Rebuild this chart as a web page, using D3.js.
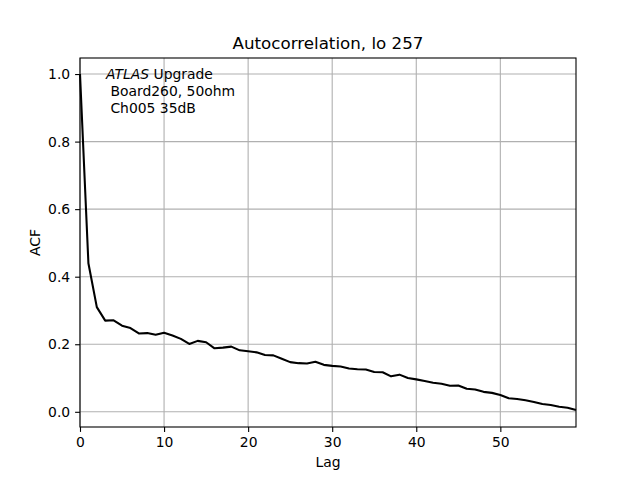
<!DOCTYPE html>
<html>
<head>
<meta charset="utf-8">
<script src="https://cdn.jsdelivr.net/npm/d3@7"></script>
<style>
  body { margin: 0; background: #fff; }
  svg text { font-family: "DejaVu Sans", sans-serif; fill: #000; }
</style>
</head>
<body>
<svg id="chart" width="640" height="480"></svg>
<script>
// valores de la autocorrelacion
const lags = d3.range(0, 60);
const acf = [
  1.0, 0.44, 0.31, 0.27, 0.271, 0.255, 0.248, 0.232, 0.233, 0.228,
  0.234, 0.226, 0.216, 0.201, 0.21, 0.206, 0.188, 0.19, 0.193, 0.182,
  0.179, 0.176, 0.168, 0.167, 0.157, 0.147, 0.144, 0.143, 0.148, 0.139,
  0.136, 0.134, 0.128, 0.126, 0.125, 0.118, 0.117, 0.105, 0.11, 0.1,
  0.096, 0.091, 0.086, 0.083, 0.077, 0.078, 0.068, 0.066, 0.059, 0.056,
  0.05, 0.04, 0.038, 0.034, 0.029, 0.023, 0.02, 0.015, 0.012, 0.005
];
const xTicks = [0, 10, 20, 30, 40, 50];
const yTicks = [0.0, 0.2, 0.4, 0.6, 0.8, 1.0];
const titleText = "Autocorrelation, lo 257";
const noteLines = [" Board260, 50ohm", " Ch005 35dB"];

const margin = { top: 58, right: 64, bottom: 53, left: 80 };
const width = 640 - margin.left - margin.right;
const height = 480 - margin.top - margin.bottom;

const svg = d3.select("#chart");
const g = svg.append("g")
  .attr("transform", `translate(${margin.left},${margin.top})`);

const x = d3.scaleLinear().domain([0, 59]).range([0, width]);
const y = d3.scaleLinear().domain([-0.045, 1.0475]).range([height, 0]);

// rejilla
g.append("g").selectAll("line")
  .data(xTicks).enter().append("line")
  .attr("x1", d => x(d)).attr("x2", d => x(d))
  .attr("y1", 0).attr("y2", height)
  .style("stroke", "#b0b0b0").style("stroke-width", 1.1);
g.append("g").selectAll("line")
  .data(yTicks).enter().append("line")
  .attr("x1", 0).attr("x2", width)
  .attr("y1", d => y(d)).attr("y2", d => y(d))
  .style("stroke", "#b0b0b0").style("stroke-width", 1.1);

// linea de la ACF
const line = d3.line().x((d, i) => x(lags[i])).y(d => y(d));
g.append("path")
  .datum(acf)
  .attr("d", line)
  .style("fill", "none")
  .style("stroke", "#000")
  .style("stroke-width", 2.08)
  .style("stroke-linejoin", "round");

// ejes
const xAxis = g.append("g")
  .attr("transform", `translate(0,${height})`)
  .call(d3.axisBottom(x).tickValues(xTicks).tickSize(4.9).tickPadding(4.9));
const yAxis = g.append("g")
  .call(d3.axisLeft(y).tickValues(yTicks).tickFormat(d3.format(".1f")).tickSize(4.9).tickPadding(4.9));
[xAxis, yAxis].forEach(a => {
  a.select(".domain").remove();
  a.selectAll("line").style("stroke", "#000").style("stroke-width", 1.1);
  a.selectAll("text").style("font-size", "13.9px").style("font-family", "DejaVu Sans, sans-serif");
});

// marco
g.append("rect")
  .attr("width", width).attr("height", height)
  .style("fill", "none").style("stroke", "#000").style("stroke-width", 1.1);

// titulo y etiquetas
svg.append("text")
  .attr("x", margin.left + width / 2).attr("y", 49)
  .attr("text-anchor", "middle")
  .style("font-size", "16.7px")
  .text(titleText);
svg.append("text")
  .attr("x", margin.left + width / 2).attr("y", 467)
  .attr("text-anchor", "middle")
  .style("font-size", "13.9px")
  .text("Lag");
svg.append("text")
  .attr("transform", `translate(40,${margin.top + height / 2}) rotate(-90)`)
  .attr("text-anchor", "middle")
  .style("font-size", "13.9px")
  .text("ACF");

// anotacion
const note = svg.append("text")
  .attr("x", 106).attr("y", 79)
  .style("font-size", "13.9px");
note.append("tspan").style("font-style", "italic").text("ATLAS");
note.append("tspan").text(" Upgrade");
noteLines.forEach((t, i) => {
  svg.append("text")
    .attr("x", 106).attr("y", 79 + 17 * (i + 1))
    .attr("xml:space", "preserve")
    .style("white-space", "pre")
    .style("font-size", "13.9px")
    .text(t);
});
</script>
</body>
</html>
